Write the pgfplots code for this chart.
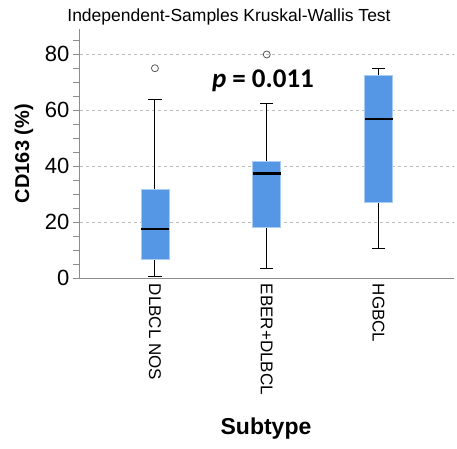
\documentclass[border=0pt]{standalone}
\usepackage{fontspec}
\setmainfont{Liberation Sans}
\newfontfamily\calibri{Carlito}
\usepackage{pgfplots}
\pgfplotsset{compat=1.18}
\usepgfplotslibrary{statistics}
\definecolor{boxblue}{HTML}{5597E4}
\definecolor{boxedge}{HTML}{A9CCF3}
\definecolor{axgray}{HTML}{8C8C8C}
\definecolor{gridgray}{HTML}{BDBDBD}
\begin{document}
\begin{tikzpicture}
\begin{axis}[
  scale only axis, width=373.5pt, height=249.3pt,
  xmin=0.33, xmax=3.67, ymin=0, ymax=89,
  axis lines=left,
  axis line style={-, draw=axgray, line width=1pt},
  /pgf/number format/assume math mode=true,
  xtick={1,2,3}, xticklabels={DLBCL NOS, EBER+DLBCL, HGBCL},
  x tick label style={rotate=-90, anchor=west, font=\fontsize{17}{17}\selectfont, xshift=-5pt},
  xtick style={draw=none},
  ytick={0,20,40,60,80}, minor ytick={5,10,...,85},
  y tick label style={font=\fontsize{22}{22}\selectfont},
  tick align=outside, major tick length=7pt, minor tick length=7pt,
  ytick style={axgray, line width=0.8pt},
  ymajorgrids, major grid style={gridgray, line width=0.8pt, dash pattern=on 3pt off 3pt},
  ylabel={\textbf{CD163 (\%)}},
  ylabel style={at={(axis description cs:0,0.5)}, anchor=center, yshift=56pt, font=\fontsize{20}{20}\selectfont},
  xlabel={\textbf{Subtype}},
  xlabel style={at={(axis description cs:0.498,0)}, anchor=base, yshift=-155.7pt, font=\fontsize{23}{23}\selectfont},
  title={Independent-Samples Kruskal-Wallis Test},
  title style={at={(axis description cs:0.399,1)}, anchor=base, yshift=1.5pt, font=\fontsize{17.5}{17.5}\selectfont},
  boxplot/draw direction=y,
  boxplot/every box/.style={fill=boxblue, draw=boxedge, line width=0.8pt},
  boxplot/every whisker/.style={black, line width=1pt},
  boxplot/every median/.style={black, line width=2.2pt},
  boxplot/box extend=0.25,
  boxplot/whisker extend=0.12,
]
\addplot[boxplot prepared={draw position=1, lower whisker=0.5, lower quartile=6.8, median=17.5, upper quartile=31.8, upper whisker=63.7},
  mark=o, mark size=3.5pt, mark options={draw=black!65, line width=0.8pt}]
  table[row sep=\\, y index=0] {data\\ 75\\};
\addplot[boxplot prepared={draw position=2, lower whisker=3.4, lower quartile=18.0, median=37.4, upper quartile=41.8, upper whisker=62.4},
  mark=o, mark size=3.5pt, mark options={draw=black!65, line width=0.8pt}]
  table[row sep=\\, y index=0] {data\\ 79.9\\};
\addplot[boxplot prepared={draw position=3, lower whisker=10.7, lower quartile=27.1, median=56.8, upper quartile=72.4, upper whisker=74.8}]
  coordinates {};
\node[anchor=base, font=\calibri\bfseries\fontsize{27}{27}\selectfont] at (axis cs:1.966,68) {\textit{p} = 0.011};
\end{axis}
\pgfresetboundingbox
\path[use as bounding box] ([shift={(-80pt,-169.7pt)}]current axis.south west) rectangle ++(457pt,448pt);
\end{tikzpicture}
\end{document}
